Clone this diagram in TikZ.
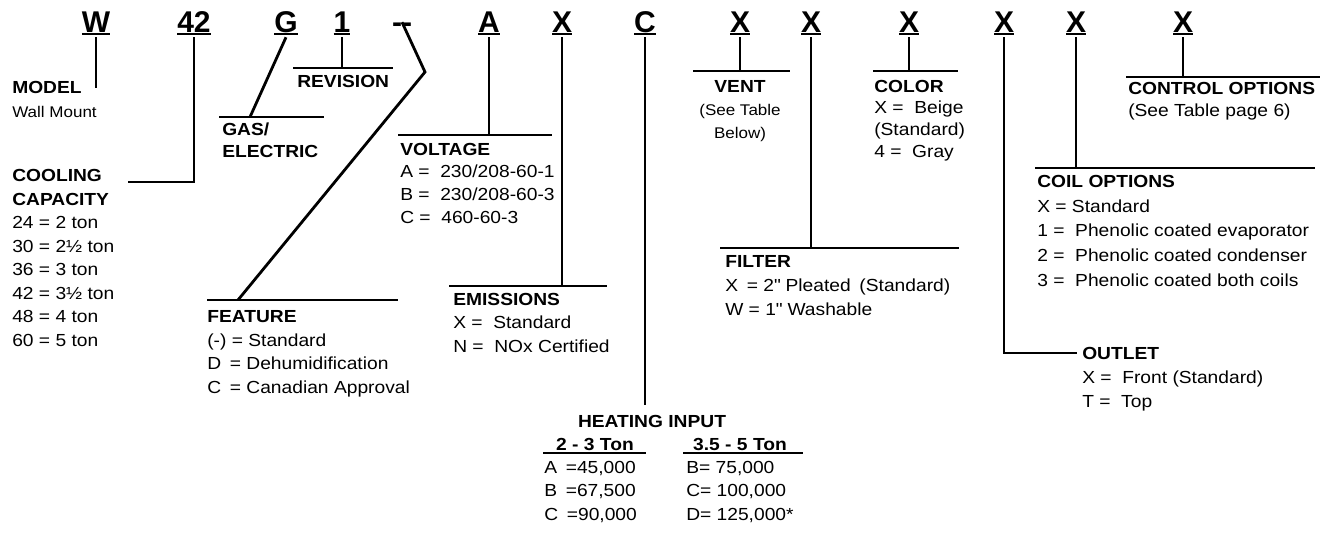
\documentclass[tikz,border=0pt]{standalone}
\usepackage{fontspec}
\setmainfont{Liberation Sans}[FakeStretch=1.1]
\newfontfamily\codefont{Liberation Sans}
\newcommand{\codeul}[1]{\setbox0\hbox{#1}\rlap{\vrule width\wd0 height -0.75pt depth 2.25pt}\box0}
\newcommand{\notesize}{\fontsize{11.6}{16}\selectfont}
\newcommand{\inch}{\XeTeXglyph\XeTeXcharglyph"22\relax}
\tikzset{
  code/.style={font=\codefont\bfseries\fontsize{22.5}{27}\selectfont, inner sep=1.5pt, anchor=base},
  lead/.style={line width=2.1pt},
  block/.style={font=\fontsize{13.1}{17.625}\selectfont, inner sep=0pt, anchor=base west, align=left},
  head/.style={block, anchor=base, font=\bfseries\fontsize{13.1}{17.625}\selectfont},
}
\begin{document}
\begin{tikzpicture}[x=0.75pt,y=0.75pt,yscale=-1,xscale=1]
	\useasboundingbox (0,0) rectangle (1330,532);
	
	% Code letters
	\node[code] (lModel) at (96,32) {\codeul{W}};
	\node[code] (lCap) at (194,32) {\codeul{42}};
	\node[code] (lGas) at (286,32) {\codeul{G}};
	\node[code] (lRev) at (342,32) {\codeul{1}};
	\node[code, inner sep=0pt] (lFeat) at (402,32) {--};
	\node[code] (lVolt) at (489,32) {\codeul{A}};
	\node[code] (lEmis) at (562,32) {\codeul{X}};
	\node[code] (lHeat) at (645,32) {\codeul{C}};
	\node[code] (lVent) at (740,32) {\codeul{X}};
	\node[code] (lFilt) at (811,32) {\codeul{X}};
	\node[code] (lColor) at (909,32) {\codeul{X}};
	\node[code] (lOutlet) at (1004,32) {\codeul{X}};
	\node[code] (lCoil) at (1076,32) {\codeul{X}};
	\node[code] (lCtrl) at (1183,32) {\codeul{X}};
	
	% Joints
	\coordinate (jModel) at (96,88);
	\coordinate (jCapA) at (194,182);
	\coordinate (jCapB) at (128,182);
	\coordinate (jGas) at (250,117);
	\coordinate (jRev) at (342,68);
	\coordinate (jFeatA) at (425,72);
	\coordinate (jFeatB) at (238,300);
	\coordinate (jVolt) at (489,135);
	\coordinate (jEmis) at (562,286);
	\coordinate (jHeat) at (645,405);
	\coordinate (jVent) at (740,71);
	\coordinate (jFilt) at (811,248);
	\coordinate (jColor) at (909,71);
	\coordinate (jOutletA) at (1004,353);
	\coordinate (jOutletB) at (1077,353);
	\coordinate (jCoil) at (1076,168);
	\coordinate (jCtrl) at (1183,77);
	
	% Leads
	\draw[lead] (lModel.south) -- (jModel);
	\draw[lead] (lCap.south) -- (jCapA) -- (jCapB);
	\draw[lead] (lGas.south) -- (jGas);
	\draw[lead] (lRev.south) -- (jRev);
	\draw[lead, line join=miter] (lFeat.north) -- (jFeatA) -- (jFeatB);
	\draw[lead] (lVolt.south) -- (jVolt);
	\draw[lead] (lEmis.south) -- (jEmis);
	\draw[lead] (lHeat.south) -- (jHeat);
	\draw[lead] (lVent.south) -- (jVent);
	\draw[lead] (lFilt.south) -- (jFilt);
	\draw[lead] (lColor.south) -- (jColor);
	\draw[lead] (lOutlet.south) -- (jOutletA) -- (jOutletB);
	\draw[lead] (lCoil.south) -- (jCoil);
	\draw[lead] (lCtrl.south) -- (jCtrl);
	
	% Bars
	\draw[lead] (219,117) -- (324,117);
	\draw[lead] (293,68) -- (393,68);
	\draw[lead] (207,300) -- (398,300);
	\draw[lead] (398,135) -- (552,135);
	\draw[lead] (449,286) -- (607,286);
	\draw[lead] (693,71) -- (790,71);
	\draw[lead] (720,248) -- (959,248);
	\draw[lead] (873,71) -- (958,71);
	\draw[lead] (1035,168) -- (1315,168);
	\draw[lead] (1126,77) -- (1320,77);
	\draw[lead] (543,453) -- (646,453);
	\draw[lead] (683,453) -- (803,453);
	
	% Text Node
	\node[block] (tModel) at (12,117) {\textbf{MODEL}\\{\notesize Wall Mount}};
	% Text Node
	\node[block] (tCap) at (12,346) {\textbf{COOLING}\\\textbf{CAPACITY}\\24 = 2 ton\\30 = 2½ ton\\36 = 3 ton\\42 = 3½ ton\\48 = 4 ton\\60 = 5 ton};
	% Text Node
	\node[block, font=\bfseries\fontsize{13.1}{16.5}\selectfont] (tGas) at (222,157) {GAS/\\ELECTRIC};
	% Text Node
	\node[block] (tRev) at (297,87) {\textbf{REVISION}};
	% Text Node
	\node[block] (tFeat) at (207,393) {\textbf{FEATURE}\\(-) = Standard\\D\enspace = Dehumidification\\C\enspace = Canadian Approval};
	% Text Node
	\node[block, font=\fontsize{13.1}{17}\selectfont] (tVolt) at (400,223) {\textbf{VOLTAGE}\\A = \ 230/208-60-1\\B = \ 230/208-60-3\\C = \ 460-60-3};
	% Text Node
	\node[block] (tEmis) at (453,352) {\textbf{EMISSIONS}\\X = \ Standard\\N = \ NOx Certified};
	% Text Node
	\node[block, anchor=base, align=center, font=\fontsize{13.1}{17.25}\selectfont] (tVent) at (740,138) {\textbf{VENT}\\{\notesize (See Table}\\{\notesize Below)}};
	% Text Node
	\node[block, font=\fontsize{13.1}{18}\selectfont] (tFilt) at (725,315) {\textbf{FILTER}\\X\enspace= 2\inch{} Pleated\enspace (Standard)\\W = 1\inch{} Washable};
	% Text Node
	\node[block, font=\fontsize{13.1}{16.25}\selectfont] (tColor) at (874,157) {\textbf{COLOR}\\X = \ Beige\\(Standard)\\4 = \ Gray};
	% Text Node
	\node[block, font=\fontsize{13.1}{18}\selectfont] (tOutlet) at (1082,407) {\textbf{OUTLET}\\X = \ Front (Standard)\\T = \ Top};
	% Text Node
	\node[block, font=\fontsize{13.1}{18.4}\selectfont] (tCoil) at (1037,286) {\textbf{COIL OPTIONS}\\X = Standard\\1 = \ Phenolic coated evaporator\\2 = \ Phenolic coated condenser\\3 = \ Phenolic coated both coils};
	% Text Node
	\node[block, font=\fontsize{13.1}{16.5}\selectfont] (tCtrl) at (1128,116) {\textbf{CONTROL OPTIONS}\\(See Table page 6)};
	% Text Node
	\node[head] (tHeat) at (652,427) {HEATING INPUT};
	\node[head] (tLow) at (595,450) {2 - 3 Ton};
	\node[head] (tHigh) at (740,450) {3.5 - 5 Ton};
	\node[block] (tLowVal) at (544,520) {A\enspace=45,000\\B\enspace=67,500\\C\enspace=90,000};
	\node[block] (tHighVal) at (686,520) {B= 75,000\\C= 100,000\\D= 125,000*};
	
\end{tikzpicture}
\end{document}
